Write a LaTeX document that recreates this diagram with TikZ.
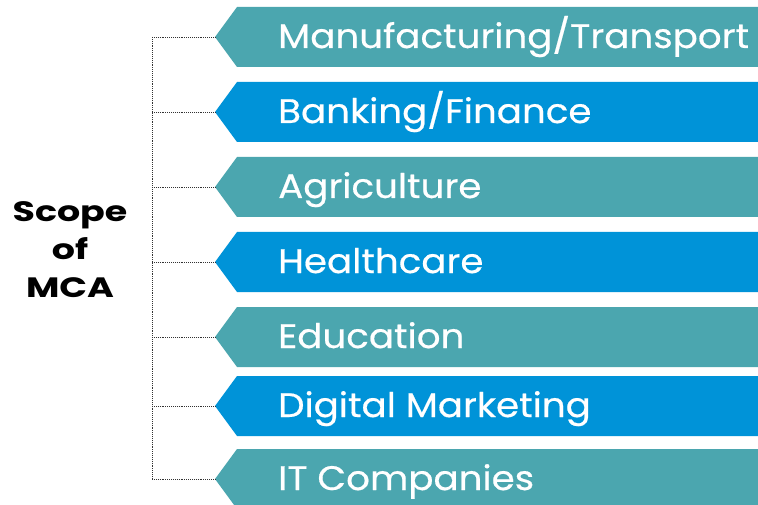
\documentclass[tikz,border=0pt]{standalone}
\usepackage{fontspec}
\setmainfont{Poppins}
\newfontfamily\bannerfont[FakeStretch=1.095, FakeBold=0.5]{Poppins}
\newfontfamily\titlefont[FakeStretch=1.3]{Poppins}
\definecolor{tealc}{HTML}{4BA6AF}
\definecolor{bluec}{HTML}{0093D8}
\tikzset{
  bannertext/.style={anchor=base west, inner sep=0pt, text=white, font=\bannerfont\fontsize{34}{40}\selectfont},
  conn/.style={densely dotted, line width=0.9pt, black!80},
  titletext/.style={align=center, font=\titlefont\bfseries\fontsize{28}{38}\selectfont, inner sep=0pt}
}
\newcommand{\banner}[4]{% name, center y, colour, text
  \fill[#3] (237,-#2+30) -- (758,-#2+30) -- (758,-#2-30) -- (237,-#2-30) -- (215,-#2) -- cycle;
  \coordinate (#1tip) at (215,-#2);
  \coordinate (#1spine) at (152,-#2);
  \node[bannertext] (#1) at (278,-#2-11) {#4};
  \draw[conn] (#1spine) -- (#1tip);
}
\begin{document}
\begin{tikzpicture}[x=1pt,y=1pt]
\useasboundingbox (0,0) rectangle (758,-505);
\banner{b1}{37}{tealc}{Manufacturing/Transport}
\banner{b2}{112}{bluec}{Banking/Finance}
\banner{b3}{187}{tealc}{Agriculture}
\banner{b4}{262}{bluec}{Healthcare}
\banner{b5}{337}{tealc}{Education}
\banner{b6}{406}{bluec}{Digital Marketing}
\banner{b7}{479}{tealc}{IT Companies}
\draw[conn] (b1spine) -- (b7spine);
\node[titletext] (title) at (70,-250) {Scope\\of\\MCA};
\end{tikzpicture}
\end{document}
